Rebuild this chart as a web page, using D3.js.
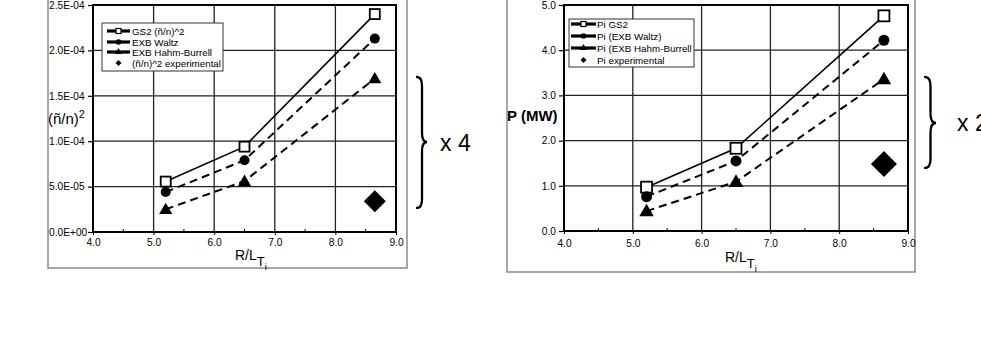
<!DOCTYPE html>
<html>
<head>
<meta charset="utf-8">
<script src="https://cdn.jsdelivr.net/npm/d3@7"></script>
<style>
  html, body { margin: 0; padding: 0; background: #fff; }
  svg { display: block; font-family: "Liberation Sans", Arial, sans-serif; }
</style>
</head>
<body>
<svg id="chart" width="981" height="343"></svg>
<script>
// ---------- data ----------
const xValues = [5.2, 6.5, 8.65];
const expX = [8.65];

// left panel: (ñ/n)^2
const fluctGS2 = [5.55e-5, 9.4e-5, 2.40e-4];
const fluctWaltz = [4.4e-5, 7.9e-5, 2.13e-4];
const fluctHahm = [2.5e-5, 5.6e-5, 1.69e-4];
const fluctExp = [3.4e-5];
const fluctTicks = [0, 5e-5, 1e-4, 1.5e-4, 2e-4, 2.5e-4];
const fluctTickLabels = ["0.0E+00", "5.0E-05", "1.0E-04", "1.5E-04", "2.0E-04", "2.5E-04"];
const fluctLegend = ["GS2 (ñ/n)^2", "EXB Waltz", "EXB Hahm-Burrell", "(ñ/n)^2 experimental"];

// right panel: P (MW)
const powerGS2 = [0.97, 1.83, 4.76];
const powerWaltz = [0.76, 1.55, 4.22];
const powerHahm = [0.44, 1.09, 3.36];
const powerExp = [1.48];
const powerTicks = [0, 1, 2, 3, 4, 5];
const powerTickLabels = ["0.0", "1.0", "2.0", "3.0", "4.0", "5.0"];
const powerLegend = ["Pi GS2", "Pi (EXB Waltz)", "Pi (EXB Hahm-Burrell", "Pi experimental"];

const xTicks = [4, 5, 6, 7, 8, 9];
const xTickLabels = ["4.0", "5.0", "6.0", "7.0", "8.0", "9.0"];
const xMinor = [4.5, 5.5, 6.5, 7.5, 8.5];

const svg = d3.select("#chart");

function brace(x0, w, y1, y2, ym) {
  const r = 9, h = w / 2;
  return `M${x0},${y1} Q${x0 + h},${y1} ${x0 + h},${y1 + r} L${x0 + h},${ym - r} Q${x0 + h},${ym} ${x0 + w},${ym}` +
         ` Q${x0 + h},${ym} ${x0 + h},${ym + r} L${x0 + h},${y2 - r} Q${x0 + h},${y2} ${x0},${y2}`;
}

function panel(cfg) {
  const g = svg.append("g");
  // outer frame
  g.append("rect").attr("x", cfg.frame[0]).attr("y", -10)
    .attr("width", cfg.frame[1] - cfg.frame[0]).attr("height", cfg.frame[2] + 10)
    .attr("fill", "none").attr("stroke", "#8a8a8a").attr("stroke-width", 1.5);

  const x = d3.scaleLinear().domain([4, 9]).range([cfg.plot.l, cfg.plot.r]);
  const y = d3.scaleLinear().domain([0, cfg.yMax]).range([cfg.plot.b, cfg.plot.t]);

  // gridlines
  g.append("g").selectAll("line").data(cfg.yTicks.slice(1, -1)).join("line")
    .attr("x1", cfg.plot.l).attr("x2", cfg.plot.r)
    .attr("y1", d => y(d)).attr("y2", d => y(d))
    .attr("stroke", "#222").attr("stroke-width", 1.3);
  g.append("g").selectAll("line").data(xTicks.slice(1, -1)).join("line")
    .attr("y1", cfg.plot.t).attr("y2", cfg.plot.b)
    .attr("x1", d => x(d)).attr("x2", d => x(d))
    .attr("stroke", "#222").attr("stroke-width", 1.3);

  // axes
  const yAxis = d3.axisLeft(y).tickValues(cfg.yTicks)
    .tickFormat((d, i) => cfg.yLabels[i]).tickSize(5).tickPadding(3);
  const ya = g.append("g").attr("transform", `translate(${cfg.plot.l},0)`).call(yAxis);
  ya.select(".domain").remove();
  ya.selectAll("line").attr("stroke", "#000").attr("stroke-width", 1.2);
  ya.selectAll("text").attr("font-size", 10.2).attr("fill", "#000")
    .attr("font-family", "Liberation Sans, Arial, sans-serif");
  if (cfg.yLabelStart !== undefined) {
    ya.selectAll("text").attr("text-anchor", "start").attr("x", cfg.yLabelStart - cfg.plot.l);
  }

  const xAxis = d3.axisBottom(x).tickValues(xTicks)
    .tickFormat((d, i) => xTickLabels[i]).tickSize(3).tickPadding(cfg.xPad);
  const xa = g.append("g").attr("transform", `translate(0,${cfg.plot.b})`).call(xAxis);
  xa.select(".domain").remove();
  xa.selectAll("line").attr("stroke", "#000");
  xa.selectAll("text").attr("font-size", 10.2).attr("fill", "#000")
    .attr("font-family", "Liberation Sans, Arial, sans-serif");
  // minor ticks inside
  g.append("g").selectAll("line").data(xMinor).join("line")
    .attr("x1", d => x(d)).attr("x2", d => x(d))
    .attr("y1", cfg.plot.b).attr("y2", cfg.plot.b - 3)
    .attr("stroke", "#000").attr("stroke-width", 1);

  // plot border
  g.append("rect").attr("x", cfg.plot.l).attr("y", cfg.plot.t)
    .attr("width", cfg.plot.r - cfg.plot.l).attr("height", cfg.plot.b - cfg.plot.t)
    .attr("fill", "none").attr("stroke", "#000").attr("stroke-width", 2);

  // series lines
  const line = d3.line().x(d => x(d[0])).y(d => y(d[1]));
  const series = [
    { v: cfg.s[0], dash: null, w: 1.6 },
    { v: cfg.s[1], dash: "8,5", w: 2 },
    { v: cfg.s[2], dash: "8,5", w: 2 }
  ];
  series.forEach(s => {
    g.append("path").datum(xValues.map((xv, i) => [xv, s.v[i]]))
      .attr("d", line).attr("fill", "none").attr("stroke", "#000")
      .attr("stroke-width", s.w).attr("stroke-dasharray", s.dash);
  });

  // markers
  const ms = cfg.ms;
  g.append("g").selectAll("rect").data(cfg.s[0]).join("rect")
    .attr("x", (d, i) => x(xValues[i]) - ms / 2).attr("y", d => y(d) - ms / 2)
    .attr("width", ms).attr("height", ms)
    .attr("fill", "#fff").attr("stroke", "#000").attr("stroke-width", 1.8);
  g.append("g").selectAll("circle").data(cfg.s[1]).join("circle")
    .attr("cx", (d, i) => x(xValues[i])).attr("cy", d => y(d)).attr("r", ms / 2)
    .attr("fill", "#000");
  const tri = d3.symbol().type(d3.symbolTriangle).size(ms * ms * 0.75);
  g.append("g").selectAll("path").data(cfg.s[2]).join("path")
    .attr("transform", (d, i) => `translate(${x(xValues[i])},${y(d) + 1})`)
    .attr("d", tri).attr("fill", "#000");
  g.append("g").selectAll("path").data(cfg.exp).join("path")
    .attr("transform", (d, i) => `translate(${x(expX[i])},${y(d)})`)
    .attr("d", `M0,${-cfg.dm} L${cfg.dm},0 L0,${cfg.dm} L${-cfg.dm},0 Z`).attr("fill", "#000");

  // legend
  const L = cfg.legend;
  g.append("rect").attr("x", L.x).attr("y", L.y).attr("width", L.w).attr("height", L.h)
    .attr("fill", "#fff").attr("stroke", "#333").attr("stroke-width", 1);
  cfg.legendText.forEach((t, i) => {
    const yy = L.rows[i];
    if (i < 3) {
      g.append("line").attr("x1", L.lx1).attr("x2", L.lx2).attr("y1", yy).attr("y2", yy)
        .attr("stroke", "#000").attr("stroke-width", 3.2);
    }
    const mx = (L.lx1 + L.lx2) / 2;
    if (i === 0) g.append("rect").attr("x", mx - 2.5).attr("y", yy - 2.5).attr("width", 5).attr("height", 5)
      .attr("fill", "#fff").attr("stroke", "#000").attr("stroke-width", 1.2);
    if (i === 1) g.append("circle").attr("cx", mx).attr("cy", yy).attr("r", 2.8).attr("fill", "#000");
    if (i === 2) g.append("path").attr("transform", `translate(${mx},${yy})`)
      .attr("d", d3.symbol().type(d3.symbolTriangle).size(22)).attr("fill", "#000");
    if (i === 3) g.append("path").attr("transform", `translate(${mx},${yy})`)
      .attr("d", "M0,-3 L3,0 L0,3 L-3,0 Z").attr("fill", "#000");
    g.append("text").attr("x", L.tx).attr("y", yy + 3.5).attr("font-size", 9.8)
      .attr("fill", "#000").text(t);
  });

  // axis titles
  const xt = g.append("text").attr("x", cfg.xTitle[0]).attr("y", cfg.xTitle[1])
    .attr("font-size", 14).attr("fill", "#000");
  xt.append("tspan").text("R/L");
  xt.append("tspan").attr("dy", 6).attr("font-size", 13).text("T");
  xt.append("tspan").attr("dy", 4).attr("font-size", 9.5).text("i");

  cfg.yTitle(g);

  // brace & multiplier
  g.append("path").attr("d", brace(...cfg.brace)).attr("fill", "none")
    .attr("stroke", "#000").attr("stroke-width", 2.3).attr("stroke-linecap", "round");
  g.append("text").attr("x", cfg.mult[0]).attr("y", cfg.mult[1])
    .attr("font-size", 23).attr("fill", "#000").text(cfg.mult[2]);
}

panel({
  frame: [48, 407, 268],
  plot: { l: 93, r: 396, t: 5, b: 232 },
  yMax: 2.5e-4, yTicks: fluctTicks, yLabels: fluctTickLabels, yLabelStart: 49,
  xPad: 4,
  s: [fluctGS2, fluctWaltz, fluctHahm], exp: fluctExp,
  ms: 10, dm: 11,
  legend: { x: 102, y: 23, w: 121, h: 48, rows: [31, 42, 52, 63], lx1: 107, lx2: 130, tx: 132 },
  legendText: fluctLegend,
  xTitle: [235, 260],
  yTitle: g => {
    const t = g.append("text").attr("x", 48).attr("y", 124).attr("font-size", 15).attr("fill", "#000");
    t.append("tspan").text("(ñ/n)");
    t.append("tspan").attr("dy", -6).attr("font-size", 11).text("2");
  },
  brace: [417, 10, 77, 208, 142],
  mult: [440, 151, "x 4"]
});

panel({
  frame: [507, 915, 272],
  plot: { l: 564, r: 908, t: 5, b: 231 },
  yMax: 5, yTicks: powerTicks, yLabels: powerTickLabels,
  xPad: 6,
  s: [powerGS2, powerWaltz, powerHahm], exp: powerExp,
  ms: 11, dm: 13,
  legend: { x: 569, y: 19, w: 125, h: 48, rows: [24, 36, 48, 60], lx1: 571, lx2: 596, tx: 597 },
  legendText: powerLegend,
  xTitle: [725, 262],
  yTitle: g => {
    g.append("text").attr("x", 507).attr("y", 121).attr("font-size", 15)
      .attr("font-weight", "bold").attr("fill", "#000").text("P (MW)");
  },
  brace: [925, 11, 77, 168, 123],
  mult: [957, 131, "x 2"]
});
</script>
</body>
</html>
